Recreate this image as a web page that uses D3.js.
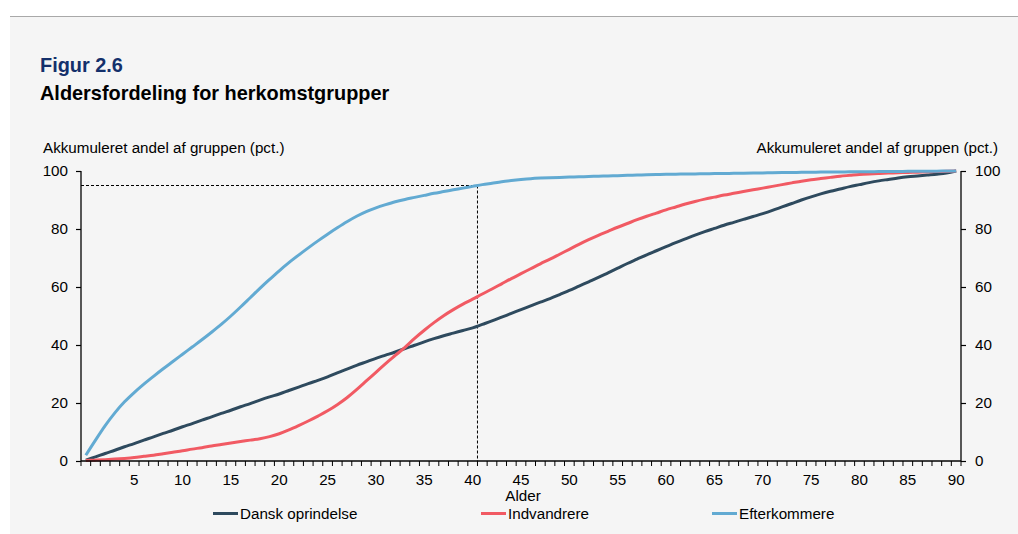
<!DOCTYPE html>
<html>
<head>
<meta charset="utf-8">
<script src="https://cdn.jsdelivr.net/npm/d3@7"></script>
<style>
  html, body { margin: 0; padding: 0; background: #ffffff; }
  svg { display: block; font-family: "Liberation Sans", Arial, sans-serif; }
</style>
</head>
<body>
<svg id="chart" width="1018" height="534"></svg>
<script>
// ---- Data ----
const ages = d3.range(0, 91); // 0..90
const tickLabels = [5,10,15,20,25,30,35,40,45,50,55,60,65,70,75,80,85,90];
const yTicks = [0,20,40,60,80,100];
const seriesNames = ["Dansk oprindelse", "Indvandrere", "Efterkommere"];

const dansk = [0.3,1.4,2.6,3.7,4.9,6,7.2,8.3,9.5,10.6,11.8,12.9,14.1,15.2,16.4,17.5,18.7,19.8,21,22.1,
  23.1,24.3,25.5,26.7,27.8,29,30.4,31.7,33,34.2,35.4,36.5,37.6,38.8,39.9,41.1,42.2,43.2,44.1,45,
  45.9,47.1,48.3,49.6,50.9,52.2,53.5,54.8,56,57.4,58.8,60.3,61.8,63.3,64.9,66.5,68.1,69.6,71.1,72.5,
  73.9,75.3,76.6,77.9,79.1,80.2,81.3,82.3,83.3,84.3,85.3,86.4,87.6,88.8,90,91.1,92.1,93,93.8,94.6,
  95.3,96,96.6,97.1,97.6,98,98.3,98.6,98.9,99.3,100];
const indvandrere = [0.2,0.3,0.45,0.65,0.9,1.2,1.6,2,2.5,3,3.5,4.1,4.6,5.2,5.7,6.2,6.7,7.2,7.7,8.4,
  9.4,10.7,12.2,13.8,15.5,17.3,19.4,21.8,24.6,27.6,30.6,33.6,36.4,39.2,42.3,45.1,47.7,50.1,52.2,54.1,
  55.8,57.6,59.3,61.1,62.9,64.6,66.3,68,69.6,71.3,73,74.7,76.3,77.8,79.2,80.6,81.9,83.2,84.4,85.5,
  86.6,87.6,88.6,89.5,90.3,91,91.7,92.3,92.9,93.5,94.1,94.7,95.3,95.9,96.5,97,97.4,97.8,98.2,98.5,
  98.8,99,99.15,99.3,99.4,99.5,99.6,99.7,99.8,99.9,100];
const efterkommere = [2,7.2,12.2,16.6,20.4,23.6,26.5,29.2,31.8,34.3,36.8,39.3,41.8,44.4,47.1,50,53.1,56.3,59.5,62.6,
  65.6,68.4,71,73.5,75.9,78.2,80.4,82.5,84.4,86,87.3,88.4,89.4,90.2,90.9,91.6,92.3,92.9,93.5,94.1,
  94.7,95.3,95.8,96.3,96.7,97.05,97.35,97.55,97.7,97.8,97.9,98,98.1,98.2,98.3,98.4,98.5,98.6,98.7,98.8,
  98.85,98.9,98.95,99,99.05,99.1,99.15,99.2,99.25,99.3,99.35,99.4,99.45,99.5,99.55,99.6,99.62,99.65,99.68,99.7,
  99.73,99.76,99.79,99.82,99.85,99.88,99.9,99.93,99.95,99.98,100];
const refAge = 40;   // reference age (dashed line)
const refPct = 95;   // reference share (dashed line)

// ---- Styles ----
const colors = ["#2e4a5e", "#f15a63", "#62aad2"];
const series = [dansk, indvandrere, efterkommere];
const fs = 15.2;

const svg = d3.select("#chart");
svg.append("rect").attr("x", 0).attr("y", 0).attr("width", 1018).attr("height", 534).attr("fill", "#ffffff");
svg.append("rect").attr("x", 10).attr("y", 16).attr("width", 1008).attr("height", 518).attr("fill", "#f5f5f5");
svg.append("line").attr("x1", 10).attr("x2", 1018).attr("y1", 16.5).attr("y2", 16.5)
  .attr("stroke", "#a9a9a9").attr("stroke-width", 1);

// titles
svg.append("text").attr("x", 40).attr("y", 72).text("Figur 2.6")
  .attr("font-size", 19.9).attr("font-weight", "bold").attr("fill", "#14306b");
svg.append("text").attr("x", 40).attr("y", 100).text("Aldersfordeling for herkomstgrupper")
  .attr("font-size", 19.9).attr("font-weight", "bold").attr("fill", "#000");

const m = {left: 81, right: 961, top: 171, bottom: 461};
const x = d3.scaleBand().domain(ages).range([m.left, m.right]).paddingInner(0).paddingOuter(0);
const y = d3.scaleLinear().domain([0, 100]).range([m.bottom, m.top]);

// axis titles
svg.append("text").attr("x", 43).attr("y", 153).text("Akkumuleret andel af gruppen (pct.)")
  .attr("font-size", fs).attr("fill", "#000");
svg.append("text").attr("x", 998).attr("y", 153).attr("text-anchor", "end")
  .text("Akkumuleret andel af gruppen (pct.)").attr("font-size", fs).attr("fill", "#000");

// dashed reference lines
const refX = x(refAge) + x.bandwidth();
svg.append("line").attr("x1", m.left).attr("x2", refX).attr("y1", y(refPct)).attr("y2", y(refPct))
  .attr("stroke", "#000").attr("stroke-width", 1).attr("stroke-dasharray", "3,2");
svg.append("line").attr("x1", refX).attr("x2", refX).attr("y1", y(refPct)).attr("y2", y(0))
  .attr("stroke", "#000").attr("stroke-width", 1).attr("stroke-dasharray", "3,2");

// lines
const line = d3.line()
  .x((d, i) => x(ages[i]) + x.bandwidth() / 2)
  .y(d => y(d))
  .curve(d3.curveMonotoneX);
series.forEach((s, k) => {
  svg.append("path").datum(s).attr("d", line).attr("fill", "none")
    .attr("stroke", colors[k]).attr("stroke-width", 3).attr("stroke-linejoin", "round");
});

// y-axes
const yLeft = svg.append("g").attr("transform", `translate(${m.left},0)`)
  .call(d3.axisLeft(y).tickValues(yTicks).tickSize(5).tickPadding(8));
const yRight = svg.append("g").attr("transform", `translate(${m.right},0)`)
  .call(d3.axisRight(y).tickValues(yTicks).tickSize(5).tickPadding(9));
[yLeft, yRight].forEach(g => {
  g.select(".domain").attr("stroke", "#000").attr("stroke-width", 1.3)
    .attr("d", `M0,${m.top}V${m.bottom}`);
  g.selectAll(".tick line").attr("stroke", "#000").attr("stroke-width", 1.2);
  g.selectAll("text").attr("font-size", fs).attr("fill", "#000")
    .attr("font-family", "Liberation Sans, Arial, sans-serif");
});

// x-axis: baseline + minor ticks at band edges
const xg = svg.append("g");
xg.append("line").attr("x1", m.left).attr("x2", m.right).attr("y1", m.bottom).attr("y2", m.bottom)
  .attr("stroke", "#000").attr("stroke-width", 1.3);
const edges = ages.map(a => x(a)).concat([x(ages[ages.length - 1]) + x.bandwidth()]);
xg.selectAll("line.mt").data(edges).enter().append("line").attr("class", "mt")
  .attr("x1", d => d).attr("x2", d => d).attr("y1", m.bottom).attr("y2", m.bottom + 5)
  .attr("stroke", "#000").attr("stroke-width", 1);
xg.selectAll("text.xl").data(tickLabels).enter().append("text").attr("class", "xl")
  .attr("x", d => x(d) + x.bandwidth() / 2).attr("y", 484.5)
  .attr("text-anchor", "middle").attr("font-size", fs).attr("fill", "#000").text(d => d);
svg.append("text").attr("x", (m.left + m.right) / 2 + 2).attr("y", 500.5).attr("text-anchor", "middle")
  .attr("font-size", fs).attr("fill", "#000").text("Alder");

// legend
const legendX = [213, 481, 712];
seriesNames.forEach((n, k) => {
  svg.append("line").attr("x1", legendX[k]).attr("x2", legendX[k] + 25).attr("y1", 513.5).attr("y2", 513.5)
    .attr("stroke", colors[k]).attr("stroke-width", 3);
  svg.append("text").attr("x", legendX[k] + 27).attr("y", 519).attr("font-size", fs).attr("fill", "#000").text(n);
});
</script>
</body>
</html>
